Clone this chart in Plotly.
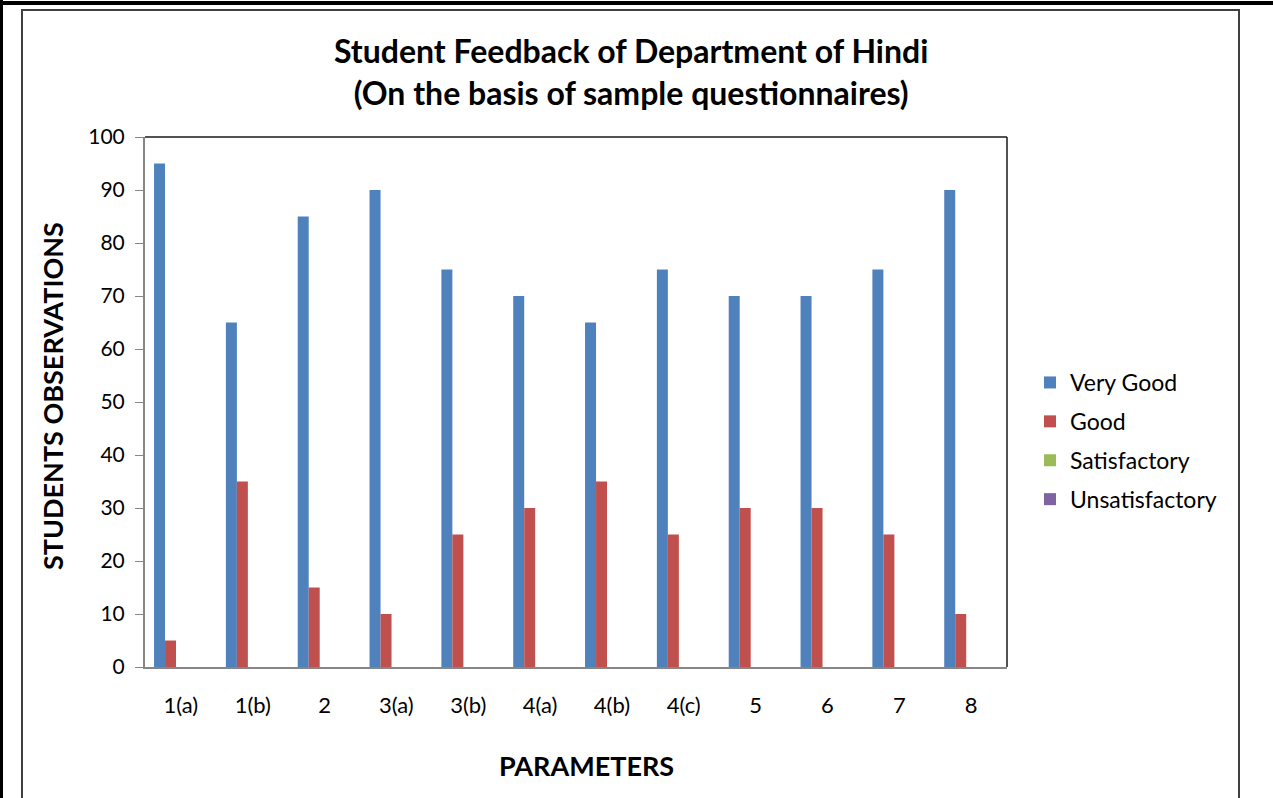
import plotly.graph_objects as go

categories = ["1(a)", "1(b)", "2", "3(a)", "3(b)", "4(a)", "4(b)", "4(c)", "5", "6", "7", "8"]
very_good = [95, 65, 85, 90, 75, 70, 65, 75, 70, 70, 75, 90]
good = [5, 35, 15, 10, 25, 30, 35, 25, 30, 30, 25, 10]
satisfactory = [0] * 12
unsatisfactory = [0] * 12

series = [
    ("Very Good", very_good, "#4F81BD"),
    ("Good", good, "#C0504D"),
    ("Satisfactory", satisfactory, "#9BBB59"),
    ("Unsatisfactory", unsatisfactory, "#8064A2"),
]

W, H = 1273, 798
L, R, T, B = 145, 1007, 137, 667
PW, PH = R - L, B - T

def px(x):
    return (x - L) / PW

def py(y):
    return (B - y) / PH

FONT = "Lato"
bw = 0.153
start = -0.374

fig = go.Figure()
for i, (name, vals, color) in enumerate(series):
    fig.add_trace(go.Bar(
        x=categories, y=vals, name=name, marker_color=color,
        marker_line_width=0, width=bw, offset=start + i * bw,
        legendgroup=name,
    ))

fig.update_layout(
    width=W, height=H,
    margin=dict(l=L, r=W - R, t=T, b=H - B),
    paper_bgcolor="white", plot_bgcolor="white",
    barmode="group",
    showlegend=True,
    font=dict(family=FONT, color="black"),
    legend=dict(
        x=px(1030), y=py(361), xanchor="left", yanchor="top",
        font=dict(family=FONT, size=23, color="black"),
        traceorder="grouped", tracegroupgap=6,
        itemwidth=30, bgcolor="rgba(0,0,0,0)",
    ),
    xaxis=dict(
        type="category", showgrid=False, showline=True, linecolor="#868686", linewidth=2,
        ticks="", tickfont=dict(family=FONT, size=22, color="black"),
        ticklabelstandoff=18, range=[-0.5, 11.5], fixedrange=True,
    ),
    yaxis=dict(
        range=[0, 100], dtick=10, showgrid=False, showline=True, linecolor="#868686", linewidth=2,
        ticks="outside", ticklen=8, tickcolor="#868686", tickwidth=1,
        tickfont=dict(family=FONT, size=21, color="black"), ticklabelstandoff=6,
        zeroline=False, fixedrange=True,
    ),
    shapes=[
        # chart border
        dict(type="rect", xref="paper", yref="paper", x0=px(22), x1=px(1239), y0=py(810), y1=py(10),
             line=dict(color="#404040", width=2), layer="below"),
        # outer black lines
        dict(type="line", xref="paper", yref="paper", x0=px(0), x1=px(1273), y0=py(3), y1=py(3),
             line=dict(color="black", width=4)),
        dict(type="line", xref="paper", yref="paper", x0=px(1.5), x1=px(1.5), y0=py(0), y1=py(798),
             line=dict(color="black", width=3)),
        # plot area border (top/right)
        dict(type="line", xref="paper", yref="paper", x0=0, x1=1, y0=1, y1=1,
             line=dict(color="#1a1a1a", width=1.5)),
        dict(type="line", xref="paper", yref="paper", x0=1, x1=1, y0=0, y1=1,
             line=dict(color="#1a1a1a", width=1.5)),
    ],
    annotations=[
        dict(text="<b>Student Feedback of Department of Hindi<br>(On the basis of sample questionnaires)</b>",
             xref="paper", yref="paper", x=px(631), y=py(72), xanchor="center", yanchor="middle",
             showarrow=False, font=dict(family=FONT, size=32, color="black"), align="center"),
        dict(text="<b>STUDENTS OBSERVATIONS</b>", xref="paper", yref="paper",
             x=px(52), y=py(396), xanchor="center", yanchor="middle", textangle=-90,
             showarrow=False, font=dict(family=FONT, size=27, color="black")),
        dict(text="<b>PARAMETERS</b>", xref="paper", yref="paper",
             x=px(586), y=py(765), xanchor="center", yanchor="middle",
             showarrow=False, font=dict(family=FONT, size=27, color="black")),
    ],
)

fig.write_html("out.html", config={"displayModeBar": False},
               post_script="document.body.style.margin='0px';document.body.style.padding='0px';")
